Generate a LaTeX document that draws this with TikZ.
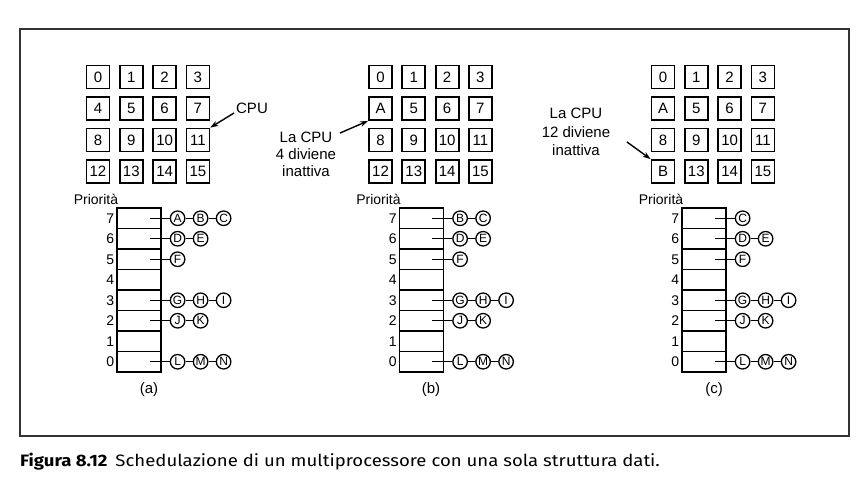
\documentclass[tikz,border=0pt]{standalone}
\usepackage{fontspec}
\setmainfont{Liberation Sans}
\newfontfamily\capfont{Fira Sans}
\usetikzlibrary{arrows.meta}
\tikzset{
  cell/.style={draw, line width=1.8pt, minimum size=23pt, inner sep=0pt, font=\fontsize{15}{15}\selectfont},
  prow/.style={draw, line width=1.2pt, minimum width=44pt, minimum height=20.5pt, inner sep=0pt},
  proc/.style={draw, circle, line width=1.3pt, minimum size=14.5pt, inner sep=0pt, font=\fontsize{12}{12}\selectfont},
  rowlab/.style={inner sep=0pt, font=\fontsize{14}{14}\selectfont},
  lab/.style={font=\fontsize{15}{17}\selectfont, align=center, inner sep=0pt},
  ptr/.style={line width=1.4pt, -{Stealth[length=8pt,width=5.5pt]}},
  link/.style={line width=1.1pt}
}
% #1 panel id, #2 x offset, #3 grid labels, #4 rows with processes
\newcommand\drawpanel[4]{%
  \foreach \t [count=\k from 0] in {#3} {%
    \pgfmathtruncatemacro\cc{mod(\k,4)}%
    \pgfmathtruncatemacro\rr{div(\k,4)}%
    \node[cell] (g#1-\k) at ({98+#2+33.3*\cc},{77+31.5*\rr}) {\t};
  }
  \node[rowlab] (pl#1) at ({96+#2},199) {Priorità};
  \foreach \r in {0,...,7} {%
    \node[prow] (p#1-\r) at ({139+#2},{218.25+(7-\r)*20.5}) {};
    \node[rowlab, anchor=east] (n#1-\r) at ([xshift=-2pt]p#1-\r.west) {\r};
  }
  \foreach \r/\lst in {#4} {%
    \coordinate (s#1-\r) at ([xshift=-12pt]p#1-\r.east);
    \foreach \l [count=\j] in \lst {%
      \node[proc] (c#1-\r-\j) at ([xshift={16+23*(\j-1)}]p#1-\r.east) {\l};
      \ifnum\j=1
        \draw[link] (s#1-\r) -- (c#1-\r-\j);
      \else
        \pgfmathtruncatemacro\jp{\j-1}%
        \draw[link] (c#1-\r-\jp) -- (c#1-\r-\j);
      \fi
    }
  }
}
\begin{document}
\begin{tikzpicture}[x=1pt,y=-1pt]
\useasboundingbox (0,0) rectangle (861,490);
\fill[white] (0,0) rectangle (861,490);
\draw[line width=2pt, black!80] (20,29) rectangle (849,436);

\drawpanel{a}{0}{0,1,2,3,4,5,6,7,8,9,10,11,12,13,14,15}%
  {7/{A,B,C},6/{D,E},5/{F},3/{G,H,I},2/{J,K},0/{L,M,N}}
\drawpanel{b}{282.5}{0,1,2,3,A,5,6,7,8,9,10,11,12,13,14,15}%
  {7/{B,C},6/{D,E},5/{F},3/{G,H,I},2/{J,K},0/{L,M,N}}
\drawpanel{c}{565}{0,1,2,3,A,5,6,7,8,9,10,11,B,13,14,15}%
  {7/{C},6/{D,E},5/{F},3/{G,H,I},2/{J,K},0/{L,M,N}}

% labels under panels
\node[lab] (la) at (149,390) {(a)};
\node[lab] (lb) at (431,390) {(b)};
\node[lab] (lc) at (714,390) {(c)};

% CPU annotations
\node[lab] (cpua) at (252,108) {CPU};
\coordinate (cpua-s) at (234,113);
\draw[ptr] (cpua-s) -- (ga-11.north east);

\node[lab] (cpub) at (306,154) {La CPU\\4 diviene\\inattiva};
\coordinate (cpub-s) at (340,133);
\draw[ptr] (cpub-s) -- (gb-4.south west);

\node[lab, font=\fontsize{15}{18.5}\selectfont] (cpuc) at (576,132) {La CPU\\12 diviene\\inattiva};
\coordinate (cpuc-s) at (627,142);
\draw[ptr] (cpuc-s) -- (gc-12.north west);

% caption
\node[anchor=west, inner sep=0pt, font=\capfont\fontsize{16.5}{17}\selectfont] (cap) at (20,462)
  {\scalebox{1.125}[1]{\textbf{Figura 8.12}\hspace{7pt}Schedulazione di un multiprocessore con una sola struttura dati.}};
\end{tikzpicture}
\end{document}
